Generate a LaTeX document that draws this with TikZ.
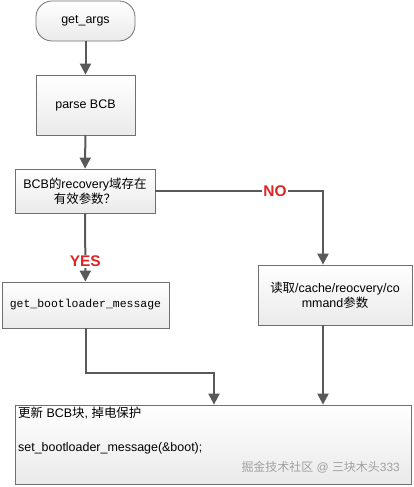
\documentclass[tikz,border=0pt]{standalone}
\usepackage{fontspec}
\setmainfont{Liberation Sans}
\setmonofont{Liberation Mono}
\newfontfamily\cjk{Noto Sans CJK SC}
\usetikzlibrary{arrows.meta}
\definecolor{linec}{HTML}{595959}
\definecolor{boxb}{HTML}{707070}
\definecolor{noc}{HTML}{E02424}
\definecolor{wmc}{HTML}{A0A0A0}
\tikzset{
  box/.style={draw=boxb, line width=0.8bp, top color=white,
    bottom color={rgb,255:red,234;green,234;blue,234},
    inner sep=0pt, font=\fontsize{12.5}{15}\selectfont, align=center},
  term/.style={box, rounded corners=16bp},
  conn/.style={draw=linec, line width=2bp, -{Triangle[width=11bp,length=11bp]}},
  lab/.style={text=noc, font=\bfseries\fontsize{15.5}{17}\selectfont, fill=white, inner sep=1bp},
  txt/.style={anchor=west, inner sep=0pt, font=\fontsize{12.5}{15}\selectfont},
  wm/.style={anchor=east, inner sep=0pt, text=wmc, font=\fontsize{12}{14}\selectfont}
}
\begin{document}
\begin{tikzpicture}[x=1bp,y=-1bp]
\useasboundingbox (0,0) rectangle (413,487);
\node[term, minimum width=99bp, minimum height=40bp] (args) at (85.5,21) {get\_args};
\node[box, minimum width=99bp, minimum height=60bp] (parse) at (85.5,105) {parse BCB};
\node[box, minimum width=140bp, minimum height=44bp] (dec) at (85,191)
  {BCB{\cjk 的}recovery{\cjk 域存在}\\{\cjk 有效参数？}};
\node[box, minimum width=167bp, minimum height=46bp, font=\ttfamily\fontsize{11.5}{14}\selectfont] (gbm) at (85.5,305) {get\_bootloader\_message};
\node[box, minimum width=154bp, minimum height=60bp] (read) at (335,295)
  {{\cjk 读取}/cache/reocvery/co\\mmand{\cjk 参数}};
\node[box, minimum width=396bp, minimum height=79bp] (upd) at (213,444.5) {};
\node[txt] (t1) at (18,413) {{\cjk 更新} BCB{\cjk 块}, {\cjk 掉电保护}};
\node[txt] (t2) at (18,448) {set\_bootloader\_message(\&boot);};
\node[wm] (wmk) at (400,467) {{\cjk 掘金技术社区} @ {\cjk 三块木头}333};

\draw[conn] (args) -- (parse);
\draw[conn] (parse) -- (dec);
\draw[conn] (dec.east) -| node[lab, pos=0.357] {NO} ([xshift=-12bp]read.north);
\draw[conn] (dec) -- node[lab, pos=0.7] {YES} (gbm);
\draw[conn] (gbm.south) -- ++(0,45) -| ([xshift=1bp]upd.north);
\draw[conn] ([xshift=-12bp]read.south) -- ([xshift=-12bp]read.south |- upd.north);
\end{tikzpicture}
\end{document}
